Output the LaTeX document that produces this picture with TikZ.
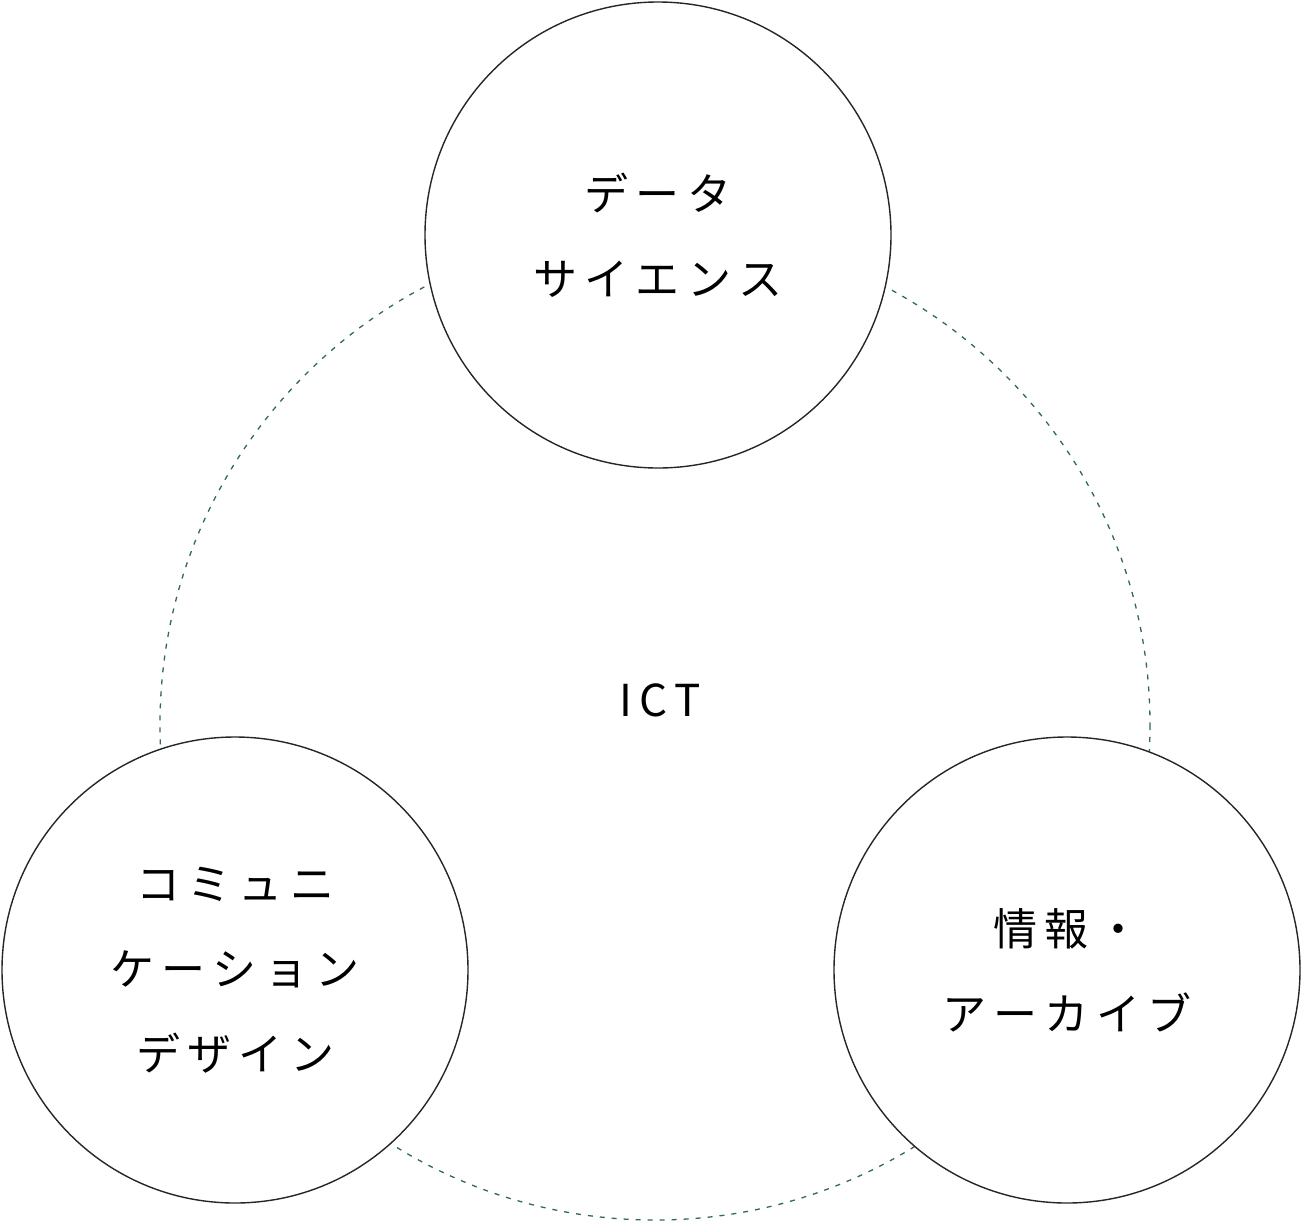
\documentclass[tikz,border=0pt]{standalone}
\usepackage{fontspec}
\setmainfont{Noto Sans CJK JP}
\definecolor{dgreen}{HTML}{2E6B50}
\begin{document}
\begin{tikzpicture}[x=1pt,y=-1pt,
  bub/.style={circle,draw=black!85,line width=1.4pt,fill=white,minimum size=466pt,inner sep=0pt,align=center,font=\fontsize{44}{85}\selectfont},
  ]
\useasboundingbox (0,0) rectangle (1301,1224);
\draw[dgreen,dashed,line width=1.3pt,dash pattern=on 5pt off 7pt] (655,725) circle[radius=495];
\node[bub] (ds) at (658,235) {デ\,ー\,タ\\サ\,イ\,エ\,ン\,ス};
\node[bub] (cd) at (235,970) {コ\,ミ\,ュ\,ニ\\ケ\,ー\,シ\,ョ\,ン\\デ\,ザ\,イ\,ン};
\node[bub] (ia) at (1067,970) {情\,報\,・\\ア\,ー\,カ\,イ\,ブ};
\node[font=\fontsize{44}{50}\selectfont] (ict) at (660,700) {I\,C\,T};
\end{tikzpicture}
\end{document}
